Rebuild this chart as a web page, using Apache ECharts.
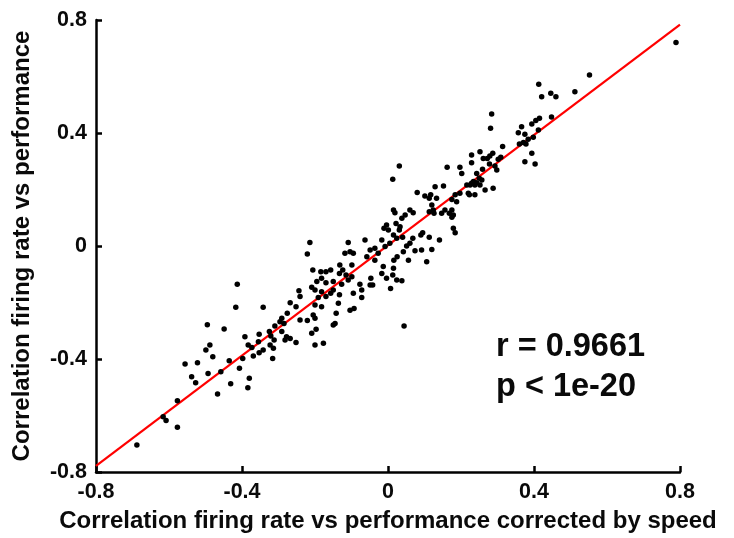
<!DOCTYPE html>
<html>
<head>
<meta charset="utf-8">
<script src="https://cdn.jsdelivr.net/npm/echarts@6/dist/echarts.min.js"></script>
<style>
html,body{margin:0;padding:0;background:#fff;}
#chart{width:734px;height:538px;}
</style>
</head>
<body>
<div id="chart"></div>
<script>
// ---- data ----
var tickValues = [-0.8, -0.4, 0, 0.4, 0.8];
var tickLabels = ['-0.8', '-0.4', '0', '0.4', '0.8'];
var xAxisTitle = 'Correlation firing rate vs performance corrected by speed';
var yAxisTitle = 'Correlation firing rate vs performance';
var statText = ['r = 0.9661', 'p < 1e-20'];
var fitLine = [[-0.8, -0.778], [0.8, 0.784]];

var pointsX = [
 -0.495,-0.449,-0.488,-0.499,-0.480,-0.556,-0.522,-0.493,-0.458,-0.538,-0.527,-0.467,-0.577,-0.616,-0.608,-0.577,-0.688,-0.431,-0.384,-0.413,-0.417,-0.342,
 -0.244,-0.241,-0.268,-0.252,-0.276,-0.241,-0.291,-0.296,-0.285,-0.310,-0.291,-0.278,-0.268,-0.282,-0.252,-0.325,-0.321,-0.312,-0.323,-0.314,-0.316,-0.353,-0.355,-0.342,-0.392,-0.383,-0.373,-0.369,-0.353,-0.398,-0.435,-0.407,-0.380,-0.209,-0.197,-0.200,-0.177,-0.221,-0.200,
 -0.214,-0.221,-0.206,-0.109,-0.118,-0.104,-0.095,-0.132,-0.099,-0.184,-0.170,-0.157,-0.182,-0.195,-0.170,-0.150,-0.133,-0.124,-0.115,-0.109,-0.099,-0.017,-0.004,0.013,0.024,0.038,-0.047,-0.077,-0.072,-0.049,-0.042,0.007,-0.072,-0.127,-0.150,-0.157,-0.182,-0.200,-0.209,-0.191,-0.170,-0.133,-0.095,-0.136,-0.182,-0.200,-0.205,-0.142,-0.104,-0.093,-0.145,-0.150,0.044,0.005,0.024,0.033,0.015,
 0.031,0.013,0.162,0.197,0.202,0.152,0.129,0.080,0.101,0.117,0.113,0.133,0.120,0.113,0.126,0.147,0.168,0.175,0.188,0.184,0.197,0.220,0.216,0.179,0.179,0.184,0.141,0.113,0.095,0.090,0.068,0.060,0.069,0.047,0.038,0.015,0.019,0.022,-0.004,0.001,-0.011,0.031,0.040,0.060,0.074,0.092,0.120,0.051,0.042,0.056,0.106,0.016,0.025,-0.017,-0.008,-0.063,-0.036,-0.027,-0.049,-0.058,-0.036,-0.013,0.015,0.175,0.156,0.124,0.175,
 0.284,0.281,0.366,0.357,0.375,0.394,0.405,0.384,0.360,0.371,0.394,0.375,0.403,0.314,0.252,0.229,0.229,0.261,0.272,0.279,0.287,0.302,0.278,0.293,0.259,0.243,0.298,0.250,0.257,0.234,0.229,0.238,0.243,0.252,0.225,0.266,0.288,0.238,0.223,0.412,0.398,0.378,0.309,0.415,
 0.789,0.552,0.413,0.446,0.421,0.460,0.512,0.448
];
var pointsY = [
 -0.279,-0.294,-0.350,-0.368,-0.392,-0.418,-0.413,-0.451,-0.445,-0.463,-0.484,-0.524,-0.548,-0.604,-0.618,-0.642,-0.704,-0.488,-0.502,-0.135,-0.217,-0.217,
 -0.158,-0.179,-0.201,-0.215,-0.238,-0.262,-0.256,-0.268,-0.274,-0.283,-0.303,-0.321,-0.327,-0.333,-0.342,-0.303,-0.319,-0.333,-0.350,-0.362,-0.398,-0.312,-0.339,-0.368,-0.321,-0.350,-0.359,-0.389,-0.378,-0.398,-0.406,-0.433,-0.468,-0.309,-0.295,-0.350,-0.344,-0.264,-0.256,
 0.012,-0.028,-0.085,0.012,-0.026,-0.020,-0.026,-0.067,-0.067,-0.091,-0.091,-0.085,-0.114,-0.126,-0.130,-0.126,-0.097,-0.085,-0.103,-0.120,-0.109,-0.097,-0.114,-0.103,-0.120,-0.123,-0.114,-0.135,-0.156,-0.138,-0.138,-0.150,-0.182,-0.135,-0.156,-0.167,-0.162,-0.156,-0.146,-0.182,-0.179,-0.173,-0.167,-0.203,-0.215,-0.209,-0.244,-0.238,-0.227,-0.221,-0.274,-0.280,-0.283,0.010,0.027,0.068,0.039,
 0.283,0.236,0.279,0.279,0.257,0.212,0.210,0.189,0.177,0.181,0.169,0.169,0.145,0.121,0.116,0.116,0.116,0.127,0.157,0.181,0.187,0.187,0.216,0.110,0.063,0.047,0.021,0.031,0.047,0.039,0.027,0.127,0.118,0.110,0.098,0.127,0.118,0.080,0.074,0.057,0.063,0.057,0.031,0.010,-0.017,-0.014,-0.012,0.000,-0.020,-0.050,-0.056,-0.050,-0.038,0.021,-0.002,0.021,-0.008,-0.026,-0.014,-0.038,-0.050,-0.073,-0.079,0.165,0.127,0.127,0.102,
 0.467,0.417,0.422,0.401,0.396,0.432,0.444,0.378,0.361,0.366,0.328,0.298,0.290,0.352,0.334,0.322,0.295,0.310,0.310,0.319,0.328,0.307,0.290,0.283,0.272,0.257,0.269,0.240,0.234,0.228,0.222,0.216,0.224,0.216,0.216,0.198,0.204,0.181,0.181,0.411,0.385,0.361,0.314,0.452,
 0.720,0.605,0.573,0.541,0.528,0.528,0.546,0.457
];

// ---- build ----
var scatterData = pointsX.map(function (x, i) { return [x, pointsY[i]]; });
function tickFmt(v) {
  var best = 0, d = Infinity;
  for (var i = 0; i < tickValues.length; i++) {
    var dd = Math.abs(tickValues[i] - v);
    if (dd < d) { d = dd; best = i; }
  }
  return d < 1e-6 ? tickLabels[best] : '';
}
var FONT = '"Liberation Sans", Arial, sans-serif';
var axisCommon = {
  type: 'value', min: -0.8, max: 0.8, interval: 0.4,
  splitLine: { show: false },
  axisLine: { show: true, onZero: false, lineStyle: { color: '#000', width: 2.5 } },
  axisTick: { show: true, inside: true, length: 6, lineStyle: { color: '#000', width: 2.5 } },
  nameLocation: 'middle',
  nameTextStyle: { color: '#0a0a0a', fontWeight: 'bold', fontSize: 24, fontFamily: FONT }
};
var chart = echarts.init(document.getElementById('chart'), null, { renderer: 'canvas' });
chart.setOption({
  animation: false,
  backgroundColor: '#fff',
  grid: { left: 96, right: 54, top: 20, bottom: 66, containLabel: false },
  xAxis: Object.assign({}, axisCommon, {
    name: xAxisTitle, nameGap: 37,
    axisLabel: { color: '#0a0a0a', fontWeight: 'bold', fontSize: 21.5, fontFamily: FONT, margin: 9, formatter: tickFmt }
  }),
  yAxis: Object.assign({}, axisCommon, {
    name: yAxisTitle, nameGap: 62,
    axisLabel: { color: '#0a0a0a', fontWeight: 'bold', fontSize: 21.5, fontFamily: FONT, margin: 9, formatter: tickFmt }
  }),
  graphic: [
    { type: 'text', left: 496, top: 331, style: { text: statText[0], fill: '#0a0a0a', font: 'bold 32.5px ' + FONT } },
    { type: 'text', left: 496, top: 371, style: { text: statText[1], fill: '#0a0a0a', font: 'bold 32.5px ' + FONT } }
  ],
  series: [
    { type: 'line', data: fitLine, symbol: 'none', lineStyle: { color: '#ff0000', width: 2.2 }, z: 2, silent: true },
    { type: 'scatter', data: scatterData, symbol: 'circle', symbolSize: 5.5, itemStyle: { color: '#000', opacity: 1 }, z: 3 }
  ]
});
</script>
</body>
</html>
